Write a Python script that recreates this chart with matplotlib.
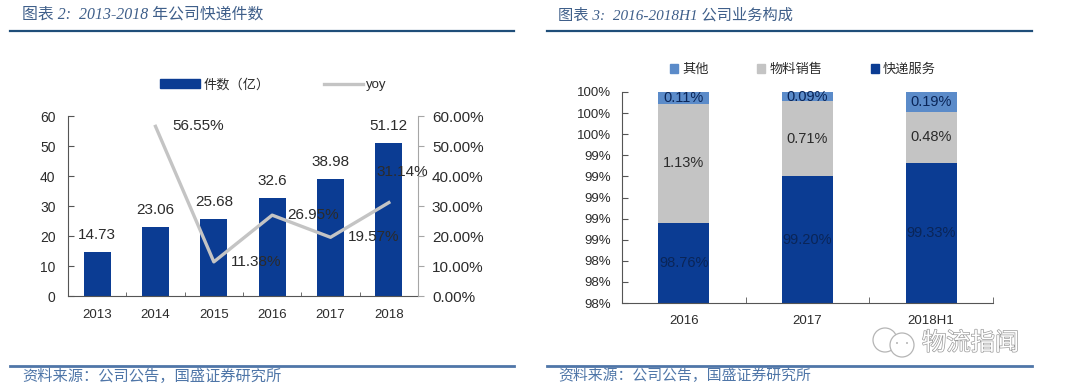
import numpy as np
import matplotlib
matplotlib.use("Agg")
import matplotlib.pyplot as plt
import matplotlib.patheffects as pe
from matplotlib.lines import Line2D
from matplotlib.patches import Patch, Ellipse

plt.rcParams['font.family'] = ['Liberation Sans', 'Noto Sans CJK SC', 'DejaVu Sans']

# data
years = ['2013', '2014', '2015', '2016', '2017', '2018']
parcels = [14.73, 23.06, 25.68, 32.6, 38.98, 51.12]
yoy = [np.nan, 56.55, 11.38, 26.95, 19.57, 31.14]

periods = ['2016', '2017', '2018H1']
express = [98.76, 99.20, 99.33]
material = [1.13, 0.71, 0.48]
other = [0.11, 0.09, 0.19]

BLUE = '#0b3c93'
LIGHT = '#5b8bc9'
GREY = '#c4c4c4'
TXT = '#2b2b2b'
W, H = 1080, 389


def px_axes(l, t, r, b):
    return fig.add_axes([l / W, 1 - b / H, (r - l) / W, (b - t) / H])


fig = plt.figure(figsize=(10.8, 3.89), dpi=100)

# overlay for the header / footer rules and captions
bg = fig.add_axes([0, 0, 1, 1])
bg.set_xlim(0, W)
bg.set_ylim(H, 0)
bg.axis('off')
bg.plot([10, 514], [31, 31], color='#1f4e79', lw=1.6)
bg.plot([547, 1032], [31, 31], color='#1f4e79', lw=1.6)
bg.plot([10, 514], [366, 366], color='#4f76a8', lw=2)
bg.plot([547, 1032], [366, 366], color='#4f76a8', lw=2)
cap = ['Liberation Serif', 'Noto Sans CJK SC']
bg.text(22, 15, '图表 2:  2013-2018 年公司快递件数', family=cap, style='italic', fontsize=11.4,
        color='#3f5f8a', va='center')
bg.text(558, 15, '图表 3:  2016-2018H1 公司业务构成', family=cap, style='italic', fontsize=11,
        color='#3f5f8a', va='center')
bg.text(22, 376, '资料来源：公司公告，国盛证券研究所', family=cap, style='italic', fontsize=11,
        color='#4f76a8', va='center')
bg.text(558, 376, '资料来源：公司公告，国盛证券研究所', family=cap, style='italic', fontsize=10.7,
        color='#4f76a8', va='center')

# left chart
ax = px_axes(68, 116, 418, 296)
x = np.arange(len(years))
ax.bar(x, parcels, width=0.46, color=BLUE)
ax.set_xlim(-0.5, 5.5)
ax.set_ylim(0, 60)
ax.set_yticks(range(0, 61, 10))
ax.set_xticks(x, years)
ax.set_xticks(np.arange(-0.5, 6), minor=True)
ax.tick_params(axis='x', which='major', length=0, pad=9, labelsize=9.5, labelcolor=TXT)
ax.tick_params(axis='x', which='minor', direction='in', length=3, color='#555555')
ax.tick_params(axis='y', direction='in', length=4, pad=9, labelsize=10, labelcolor=TXT, color='#555555')
ax.spines['top'].set_visible(False)
ax.spines['right'].set_visible(False)
ax.spines['left'].set_color('#555555')
ax.spines['bottom'].set_color('#555555')
for i, v in enumerate(parcels):
    ax.annotate(str(v), (i, v), xytext=(0, 7), textcoords='offset points', ha='center',
                va='bottom', fontsize=11, color=TXT)

ax2 = ax.twinx()
ax2.plot(x, yoy, color=GREY, lw=2.4)
ax2.set_ylim(0, 60)
ax2.set_yticks(range(0, 61, 10), [f'{v:.2f}%' for v in range(0, 61, 10)])
ax2.tick_params(axis='y', direction='out', length=4, pad=6, labelsize=11, labelcolor=TXT, color='#a6a6a6')
for s in ['top', 'left', 'bottom']:
    ax2.spines[s].set_visible(False)
ax2.spines['right'].set_color('#a6a6a6')
offsets = [None, (43, 0), (42, 0), (41, 0), (43, 0), (13, 31)]
for i, v in enumerate(yoy):
    if offsets[i] is None:
        continue
    dx, dy = offsets[i]
    ax2.annotate(f'{v:.2f}%', (i, v), xytext=(dx * 0.72, dy * 0.72), textcoords='offset points',
                 ha='center', va='center', fontsize=11, color=TXT)

leg1 = bg.legend(handles=[Patch(color=BLUE, label='件数（亿）'),
                          Line2D([], [], color=GREY, lw=2.4, label='yoy')],
                 ncol=2, frameon=False, fontsize=9.5, labelcolor=TXT, handlelength=3, handletextpad=0.25,
                 columnspacing=4.1, loc='center left', bbox_to_anchor=(155 / W, 1 - 85 / H),
                 bbox_transform=fig.transFigure, borderaxespad=0)
bg.add_artist(leg1)

# right chart
ax3 = px_axes(622, 92, 993, 303)
x3 = np.arange(len(periods))
bot2 = np.array(express)
bot3 = bot2 + np.array(material)
ax3.bar(x3, express, width=0.41, color=BLUE)
ax3.bar(x3, material, width=0.41, bottom=bot2, color=GREY)
ax3.bar(x3, other, width=0.41, bottom=bot3, color=LIGHT)
ax3.set_xlim(-0.5, 2.5)
ax3.set_ylim(98, 100)
yt = np.arange(98, 100.01, 0.2)
ax3.set_yticks(yt, [f'{v:.0f}%' for v in yt])
ax3.set_xticks(x3, periods)
ax3.set_xticks(np.arange(-0.5, 3), minor=True)
ax3.tick_params(axis='x', which='major', length=0, pad=9, labelsize=9.5, labelcolor=TXT)
ax3.tick_params(axis='x', which='minor', direction='in', length=4, color='#555555')
ax3.tick_params(axis='y', direction='in', length=4, pad=8, labelsize=9.5, labelcolor=TXT, color='#555555')
ax3.spines['top'].set_visible(False)
ax3.spines['right'].set_visible(False)
ax3.spines['left'].set_color('#555555')
ax3.spines['bottom'].set_color('#555555')
for i in x3:
    ax3.text(i, (98 + express[i]) / 2, f'{express[i]:.2f}%', ha='center', va='center', fontsize=10.5, color='#0a2558')
    ax3.text(i, bot2[i] + material[i] / 2, f'{material[i]:.2f}%', ha='center', va='center', fontsize=10.5, color=TXT)
    ax3.text(i, bot3[i] + other[i] / 2, f'{other[i]:.2f}%', ha='center', va='center', fontsize=10.5, color='#0a2558')

leg2 = bg.legend(handles=[Patch(color=LIGHT, label='其他'),
                          Patch(color=GREY, label='物料销售'),
                          Patch(color=BLUE, label='快递服务')],
                 ncol=3, frameon=False, fontsize=9.5, labelcolor=TXT, handlelength=0.6, handleheight=0.6,
                 handletextpad=0.3, columnspacing=3.7, loc='center left', bbox_to_anchor=(665 / W, 1 - 70 / H),
                 bbox_transform=fig.transFigure, borderaxespad=0)

# watermark on top of everything
top = fig.add_axes([0, 0, 1, 1], zorder=5)
top.set_xlim(0, W)
top.set_ylim(H, 0)
top.axis('off')
top.patch.set_alpha(0)
top.add_patch(Ellipse((885, 340), 24, 24, fc='white', ec='#b5b5b5', lw=0.9))
top.add_patch(Ellipse((902, 345), 24, 24, fc='white', ec='#b5b5b5', lw=0.9))
top.add_patch(Ellipse((897, 343), 2, 2, fc='#b5b5b5', ec='none'))
top.add_patch(Ellipse((907, 343), 2, 2, fc='#b5b5b5', ec='none'))
top.text(922, 343, '物流指闻', fontsize=17.5, color='white', va='center',
         family=['Noto Sans CJK SC'],
         path_effects=[pe.withStroke(linewidth=1, foreground='#9a9a9a')])

fig.savefig('out.png', dpi=100)
